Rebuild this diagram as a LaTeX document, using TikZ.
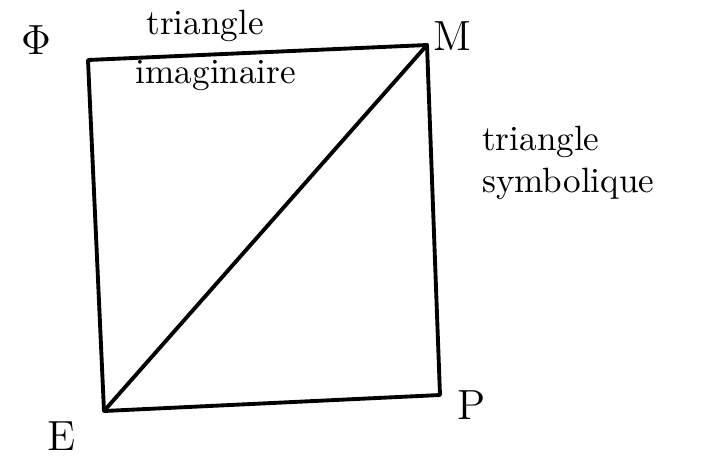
\documentclass[tikz,border=0pt]{standalone}
\usepackage{tikz}
\usetikzlibrary{positioning}
\begin{document}
\begin{tikzpicture}[x=0.1mm,y=-0.1mm,line cap=round,line join=round,
 side/.style={line width=1.1pt,black},
 corner/.style={font=\large,inner sep=1pt},
 note/.style={font=\normalsize,inner sep=1pt,align=left}]
\useasboundingbox (0,0) rectangle (703,458);
% Sommets du carré.
\coordinate (Phi) at (88,60);
\coordinate (M) at (427,45);
\coordinate (P) at (440,395);
\coordinate (E) at (104,411);
\draw[side] (Phi) -- (M) -- (P) -- (E) -- cycle;
\draw[side] (E) -- (M);
% Noms des sommets.
\node[corner] (lphi) at (36,40) {$\Phi$};
\node[corner] (lm) at (452,36) {M};
\node[corner] (lp) at (472,405) {P};
\node[corner] (le) at (62,436) {E};
% Les deux triangles.
\node[note] (timag) at (205,26) {triangle};
\node[note] (imag) at (216,76) {imaginaire};
\node[note,anchor=west] (tsymb) at (478,163) {triangle\\symbolique};
\end{tikzpicture}
\end{document}
